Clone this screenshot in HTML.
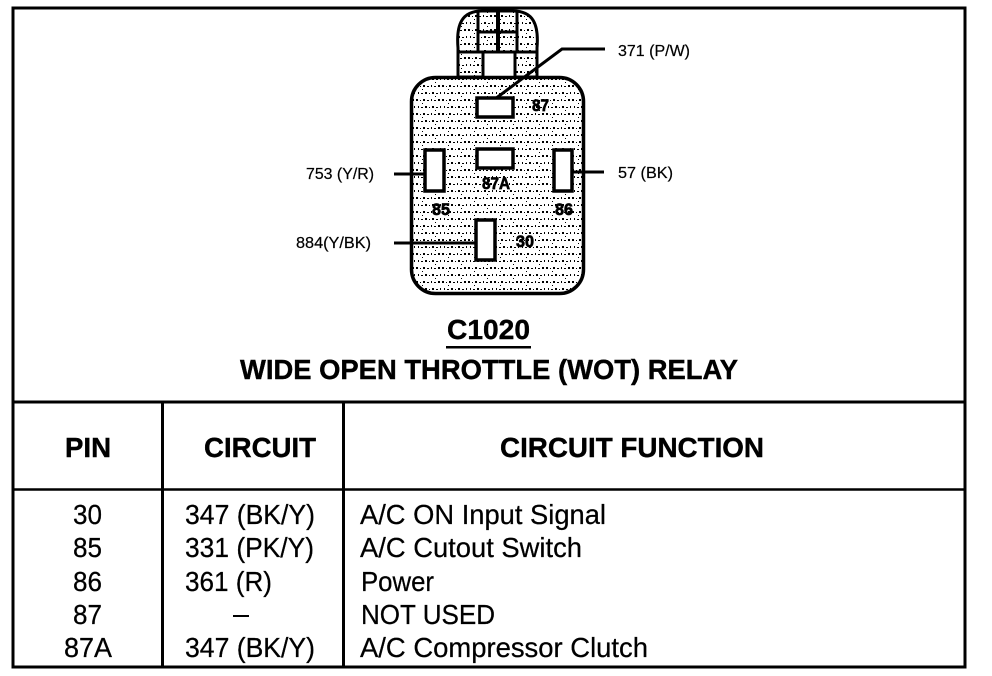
<!DOCTYPE html>
<html><head><meta charset="utf-8"><style>
html,body{margin:0;padding:0;background:#fff}
svg{display:block}
text{font-family:"Liberation Sans",sans-serif;fill:#000}
.h{font-weight:bold;font-size:28px;stroke:#000;stroke-width:.4}
.r{font-size:28px;stroke:#000;stroke-width:.25}
.s{font-size:16px;stroke:#000;stroke-width:.2}
.p{font-weight:bold;font-size:16.500px;stroke:#000;stroke-width:.7}
</style></head><body>
<svg width="992" height="676" viewBox="0 0 992 676" xmlns="http://www.w3.org/2000/svg">
<defs>
<pattern id="st" width="26" height="14" patternUnits="userSpaceOnUse">
<rect width="26" height="14" fill="#fff"/>
<g fill="#000">
<rect x="0" y="1" width="2" height="2"/><rect x="4" y="2" width="1" height="1"/><rect x="7" y="1" width="2" height="2"/><rect x="11" y="2" width="2" height="1"/><rect x="15" y="1" width="1" height="2"/><rect x="18" y="2" width="2" height="1"/><rect x="22" y="1" width="2" height="2"/>
<rect x="2" y="8" width="1" height="2"/><rect x="5" y="9" width="2" height="1"/><rect x="9" y="8" width="2" height="2"/><rect x="13" y="9" width="1" height="1"/><rect x="16" y="8" width="2" height="2"/><rect x="20" y="9" width="2" height="1"/><rect x="24" y="8" width="1" height="2"/>
<rect x="6" y="5" width="1" height="1"/><rect x="19" y="12" width="1" height="1"/>
</g>
</pattern>
</defs>
<rect width="992" height="676" fill="#fff"/>
<!-- tab -->
<path d="M458 77V48C456 24 462 11 482 11H513C533 11 539 24 537 48V77Z" fill="url(#st)" stroke="#000" stroke-width="3"/>
<rect x="483" y="52" width="32" height="25" fill="#fff"/>
<g stroke="#000" stroke-width="3" fill="none">
<path d="M458 52H537M483 52V77M515 52V77M478 11V52M517 11V52M478 32H517"/>
<path d="M498 11V52" stroke-width="4"/>
</g>
<!-- body -->
<rect x="411.500" y="77.500" width="172" height="216" rx="24" ry="24" fill="url(#st)" stroke="#000" stroke-width="3.500"/>
<!-- wires -->
<g stroke="#000" stroke-width="3" fill="none">
<path d="M495 99L562 49H605"/>
<path d="M394 174H424M571 172H604M394 243H475"/>
</g>
<!-- pins -->
<g fill="#fff" stroke="#000" stroke-width="3.500">
<rect x="477" y="98" width="36" height="19"/>
<rect x="477" y="149" width="36" height="19"/>
<rect x="425" y="150" width="19" height="41"/>
<rect x="554" y="150" width="18" height="41"/>
<rect x="476" y="220" width="19" height="40"/>
</g>
<!-- pin labels -->
<text class="p" x="532" y="111" textLength="17" lengthAdjust="spacingAndGlyphs">87</text>
<text class="p" x="482" y="189" textLength="28" lengthAdjust="spacingAndGlyphs">87A</text>
<text class="p" x="432" y="215" textLength="18" lengthAdjust="spacingAndGlyphs">85</text>
<text class="p" x="555" y="215" textLength="18" lengthAdjust="spacingAndGlyphs">86</text>
<text class="p" x="516" y="247" textLength="18" lengthAdjust="spacingAndGlyphs">30</text>
<!-- wire labels -->
<text class="s" x="618" y="56" textLength="72" lengthAdjust="spacingAndGlyphs">371 (P/W)</text>
<text class="s" x="306" y="179" textLength="68" lengthAdjust="spacingAndGlyphs">753 (Y/R)</text>
<text class="s" x="618" y="178" textLength="55" lengthAdjust="spacingAndGlyphs">57 (BK)</text>
<text class="s" x="296" y="248" textLength="75" lengthAdjust="spacingAndGlyphs">884(Y/BK)</text>
<!-- titles -->
<text class="h" x="447" y="339" textLength="83" lengthAdjust="spacingAndGlyphs">C1020</text>
<rect x="446" y="346" width="85" height="2.500" fill="#000"/>
<text class="h" x="240" y="379" textLength="498" lengthAdjust="spacingAndGlyphs">WIDE OPEN THROTTLE (WOT) RELAY</text>
<!-- frame and table -->
<g stroke="#000" fill="none">
<rect x="13" y="8" width="952" height="659" stroke-width="3"/>
<path d="M13 402H965" stroke-width="3"/>
<path d="M13 489.500H965" stroke-width="2.500"/>
<path d="M162.500 402V667M343.500 402V667" stroke-width="3"/>
</g>
<!-- header -->
<text class="h" x="65" y="457" textLength="46" lengthAdjust="spacingAndGlyphs">PIN</text>
<text class="h" x="204" y="457" textLength="112" lengthAdjust="spacingAndGlyphs">CIRCUIT</text>
<text class="h" x="500" y="457" textLength="264" lengthAdjust="spacingAndGlyphs">CIRCUIT FUNCTION</text>
<!-- rows -->
<text class="r" x="73" y="524" textLength="29" lengthAdjust="spacingAndGlyphs">30</text>
<text class="r" x="73" y="557" textLength="29" lengthAdjust="spacingAndGlyphs">85</text>
<text class="r" x="73" y="591" textLength="29" lengthAdjust="spacingAndGlyphs">86</text>
<text class="r" x="73" y="624" textLength="29" lengthAdjust="spacingAndGlyphs">87</text>
<text class="r" x="64" y="657" textLength="48" lengthAdjust="spacingAndGlyphs">87A</text>
<text class="r" x="185" y="524" textLength="130" lengthAdjust="spacingAndGlyphs">347 (BK/Y)</text>
<text class="r" x="185" y="557" textLength="129" lengthAdjust="spacingAndGlyphs">331 (PK/Y)</text>
<text class="r" x="185" y="591" textLength="87" lengthAdjust="spacingAndGlyphs">361 (R)</text>
<rect x="233" y="615" width="16" height="2" fill="#000"/>
<text class="r" x="185" y="657" textLength="130" lengthAdjust="spacingAndGlyphs">347 (BK/Y)</text>
<text class="r" x="360" y="524" textLength="246" lengthAdjust="spacingAndGlyphs">A/C ON Input Signal</text>
<text class="r" x="360" y="557" textLength="222" lengthAdjust="spacingAndGlyphs">A/C Cutout Switch</text>
<text class="r" x="361" y="591" textLength="73" lengthAdjust="spacingAndGlyphs">Power</text>
<text class="r" x="361" y="624" textLength="134" lengthAdjust="spacingAndGlyphs">NOT USED</text>
<text class="r" x="360" y="657" textLength="288" lengthAdjust="spacingAndGlyphs">A/C Compressor Clutch</text>
</svg>
</body></html>
